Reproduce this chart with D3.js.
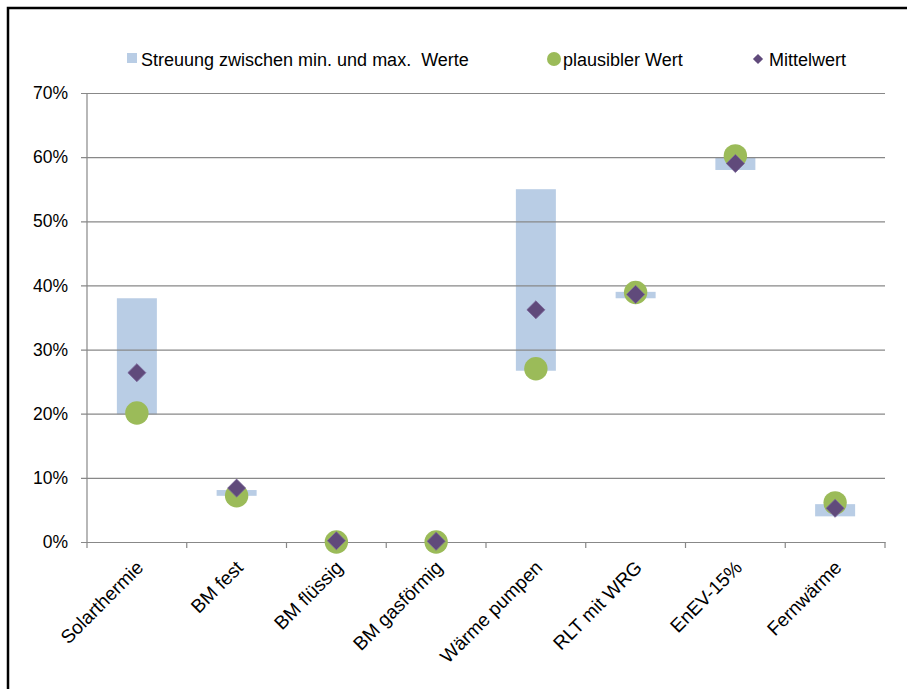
<!DOCTYPE html>
<html lang="de">
<head>
    <meta charset="UTF-8">
    <title>Streuung</title>
    <script src="https://cdn.jsdelivr.net/npm/d3@7/dist/d3.min.js"></script>
    <style>
        body { margin: 0; background: #fff; }
        text { font-family: "Liberation Sans", Arial, sans-serif; fill: #000; }
    </style>
</head>
<body>
<svg width="907" height="689" id="main"></svg>
<script>
    // values in percent
    const categories = ['Solarthermie', 'BM fest', 'BM flüssig', 'BM gasförmig',
        'Wärme pumpen', 'RLT mit WRG', 'EnEV-15%', 'Fernwärme'];
    const minValues = [19.9, 7.2, 0, 0, 26.7, 38.0, 58.0, 4.0];
    const maxValues = [38.0, 8.1, 0, 0, 55.0, 39.0, 60.0, 5.9];
    const plausibleValues = [20.1, 7.2, 0, 0, 27.0, 38.9, 60.2, 6.1];
    const meanValues = [26.4, 8.4, 0.2, 0.1, 36.2, 38.6, 59.0, 5.25];
    const yTicks = [0, 10, 20, 30, 40, 50, 60, 70];

    const svg = d3.select('#main');

    // outer frame (only top and left edge are inside the picture)
    svg.append('path').attr('d', 'M8,689V8H907')
        .attr('fill', 'none').attr('stroke', '#000').attr('stroke-width', 2.5);

    const margin = {left: 87, top: 93, right: 22, bottom: 147};
    const innerWidth = 907 - margin.left - margin.right;
    const innerHeight = 689 - margin.top - margin.bottom;

    const x = d3.scaleBand().domain(categories).range([0, innerWidth]);
    const y = d3.scaleLinear().domain([0, 70]).range([innerHeight, 0]);

    const g = svg.append('g').attr('transform', `translate(${margin.left},${margin.top})`);

    const barW = 40;
    const data = categories.map((c, i) => ({
        name: c, min: minValues[i], max: maxValues[i], plausible: plausibleValues[i], mean: meanValues[i]
    }));

    // range bars
    g.selectAll('.bar').data(data.filter(d => d.max > d.min)).join('rect')
        .attr('class', 'bar')
        .attr('x', d => x(d.name) + x.bandwidth() / 2 - barW / 2)
        .attr('width', barW)
        .attr('y', d => y(d.max))
        .attr('height', d => y(d.min) - y(d.max))
        .attr('fill', '#B9CDE5');

    // gridlines + y axis
    const yAxis = d3.axisLeft(y).tickValues(yTicks).tickFormat(d => d + '%')
        .tickSize(-innerWidth).tickPadding(19);
    const yg = g.append('g').call(yAxis);
    yg.select('.domain').remove();
    yg.selectAll('.tick line').attr('stroke', '#888').attr('stroke-width', 1.2).attr('x1', -6);
    yg.selectAll('.tick text').attr('font-size', '17.5px').style('font-family', '"Liberation Sans", Arial, sans-serif');
    g.append('line').attr('x1', 0).attr('x2', 0).attr('y1', 0).attr('y2', innerHeight)
        .attr('stroke', '#888').attr('stroke-width', 1.2);

    // x axis with ticks at band edges
    const xg = g.append('g').attr('transform', `translate(0,${innerHeight})`)
        .call(d3.axisBottom(x).tickSize(0).tickFormat(''));
    xg.select('.domain').attr('stroke', '#888').attr('stroke-width', 1.2);
    const edges = categories.map(c => x(c)).concat([innerWidth]);
    xg.selectAll('.edge').data(edges).join('line')
        .attr('x1', d => d).attr('x2', d => d).attr('y1', 0).attr('y2', 6)
        .attr('stroke', '#888').attr('stroke-width', 1.2);
    xg.selectAll('.xlabel').data(categories).join('text')
        .attr('class', 'xlabel')
        .attr('transform', d => `translate(${x(d) + x.bandwidth() / 2 + 3},${22}) rotate(-45)`)
        .attr('text-anchor', 'end')
        .attr('dy', '0.35em')
        .attr('font-size', '19px')
        .text(d => d);

    // plausible values
    g.selectAll('.plaus').data(data).join('circle')
        .attr('cx', d => x(d.name) + x.bandwidth() / 2)
        .attr('cy', d => y(d.plausible))
        .attr('r', 11.7)
        .attr('fill', '#9BBB59');

    // mean values
    const diamond = d3.symbol().type(d3.symbolSquare).size(162);
    g.selectAll('.mean').data(data).join('path')
        .attr('d', diamond)
        .attr('transform', d => `translate(${x(d.name) + x.bandwidth() / 2},${y(d.mean)}) rotate(45)`)
        .attr('fill', '#604A7B')
        .attr('stroke', '#7A649A').attr('stroke-width', 0.8);

    // legend
    const legend = svg.append('g');
    legend.append('rect').attr('x', 127).attr('y', 53).attr('width', 10).attr('height', 10).attr('fill', '#B9CDE5');
    legend.append('text').attr('x', 141).attr('y', 66).attr('font-size', '18px')
        .attr('xml:space', 'preserve').text('Streuung zwischen min. und max.  Werte');
    legend.append('circle').attr('cx', 554).attr('cy', 59).attr('r', 7).attr('fill', '#9BBB59');
    legend.append('text').attr('x', 563).attr('y', 66).attr('font-size', '18px').text('plausibler Wert');
    legend.append('path').attr('d', d3.symbol().type(d3.symbolSquare).size(52))
        .attr('transform', 'translate(758,59) rotate(45)').attr('fill', '#604A7B');
    legend.append('text').attr('x', 769).attr('y', 66).attr('font-size', '18px').text('Mittelwert');
</script>
</body>
</html>
